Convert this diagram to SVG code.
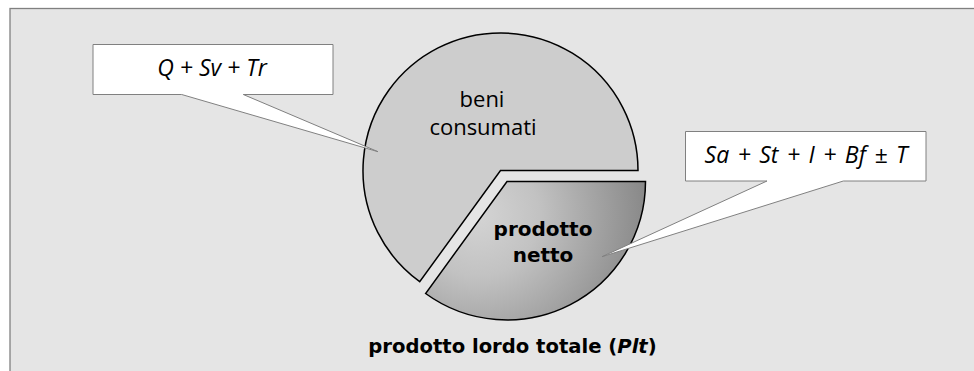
<svg xmlns="http://www.w3.org/2000/svg" width="974" height="371" viewBox="0 0 974 371">
<style>
.lbl{font-family:"Open Sans","DejaVu Sans",sans-serif;font-size:22px;fill:#000;text-anchor:middle}
.b{font-family:"DejaVu Sans","Open Sans",sans-serif;font-weight:bold;font-size:20px}
.t{font-size:19.6px}
.it{font-style:italic}
.eq{font-size:23px}
.slice{stroke:#000;stroke-width:1.5;stroke-linejoin:miter}
.callout{fill:#fff;stroke:#808080;stroke-width:1}
</style>
<defs>
<radialGradient id="netGrad" gradientUnits="userSpaceOnUse" cx="478" cy="215" r="175">
<stop offset="0" stop-color="#d4d4d4"/>
<stop offset="0.35" stop-color="#c2c2c2"/>
<stop offset="1" stop-color="#858585"/>
</radialGradient>
</defs>
<rect id="frame" x="10" y="8.5" width="980" height="380" fill="#e5e5e5" stroke="#808080" stroke-width="1.3"/>
<g id="beni-consumati">
<path class="slice" fill="#cdcdcd" d="M 500.5,170.5 L 638,170.5 A 137.5 137.5 0 1 0 419.7,281.7 Z"/>
<text class="lbl" x="482" y="107">beni</text>
<text class="lbl" x="483" y="135">consumati</text>
</g>
<g id="prodotto-netto">
<path class="slice" fill="url(#netGrad)" d="M 507,181.5 L 645.5,181.5 A 138.5 138.5 0 0 1 425.6,293.5 Z"/>
<text class="lbl b" x="543" y="236">prodotto</text>
<text class="lbl b" x="543" y="261.5">netto</text>
</g>
<g id="callout-consumati">
<path class="callout" d="M 93,44.5 H 333 V 94.5 H 243.3 L 378,151.7 L 181.7,94.5 H 93 Z"/>
<text class="lbl it eq" x="212" y="76">Q + Sv + Tr</text>
</g>
<g id="callout-netto">
<path class="callout" d="M 685.5,131.5 H 926 V 181 H 843.3 L 602,256.7 L 767,181 H 685.5 Z"/>
<text class="lbl it eq" x="806" y="162.5" word-spacing="2.5">Sa + St + I + Bf ± T</text>
</g>
<g id="title">
<text class="lbl b t" x="512.5" y="352.7">prodotto lordo totale (<tspan class="it">Plt</tspan>)</text>
</g>
<g id="connectors"></g>
</svg>
